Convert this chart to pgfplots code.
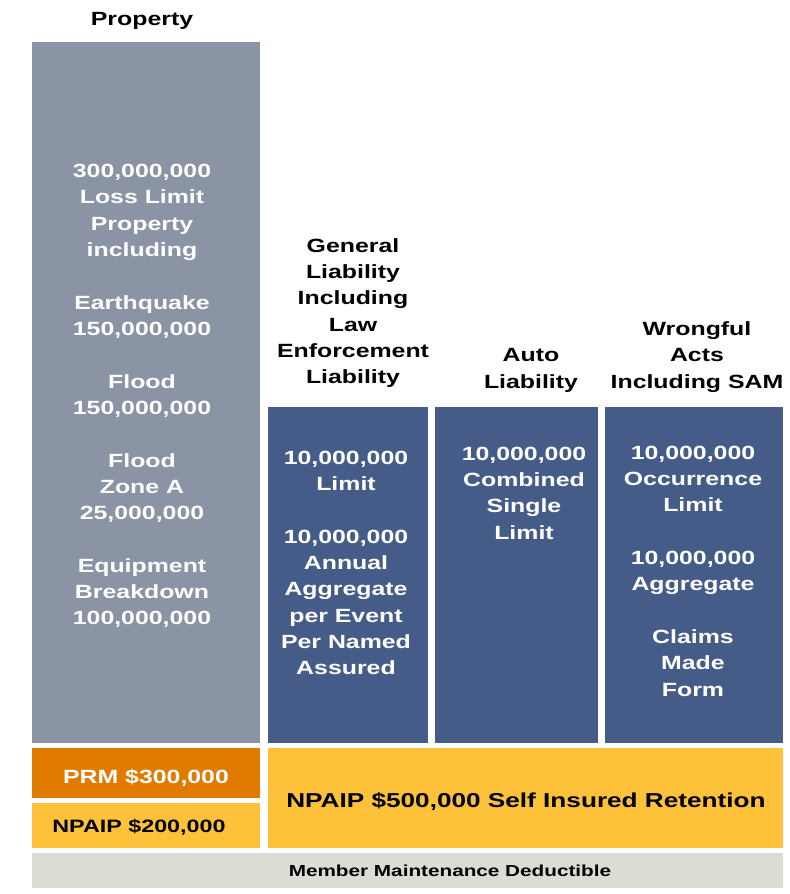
\documentclass[border=0pt]{standalone}
\usepackage{fontspec}
\setmainfont{Liberation Sans}[FakeStretch=1.3]
\usepackage{pgfplots}
\pgfplotsset{compat=1.18}

\definecolor{propgray}{HTML}{8A94A4}
\definecolor{liabblue}{HTML}{465C88}
\definecolor{prmorange}{HTML}{E07B00}
\definecolor{siryellow}{HTML}{FDC13A}
\definecolor{dedgray}{HTML}{DCDCD5}

\newcommand\lbl{\fontsize{9.6}{13.2}\selectfont\bfseries}
\newcommand\smlbl{\fontsize{8.0}{9}\selectfont\bfseries}

\begin{document}
\begin{tikzpicture}
  \begin{axis}[
    hide axis,
    scale only axis,
    width=395bp, height=447bp,
    xmin=0, xmax=790,
    ymin=0, ymax=894,
    y dir=reverse,
    clip=false,
  ]
  % page background
  \addplot[fill=white, draw=none] coordinates {(0,0) (790,0) (790,894) (0,894)} --cycle;

  % property layer
  \addplot[fill=propgray, draw=none] coordinates {(32,42) (260,42) (260,743) (32,743)} --cycle;
  % liability layers
  \addplot[fill=liabblue, draw=none] coordinates {(268,407) (428,407) (428,743) (268,743)} --cycle;
  \addplot[fill=liabblue, draw=none] coordinates {(435,407) (598,407) (598,743) (435,743)} --cycle;
  \addplot[fill=liabblue, draw=none] coordinates {(605,407) (783,407) (783,743) (605,743)} --cycle;
  % retentions
  \addplot[fill=prmorange, draw=none] coordinates {(32,748) (260,748) (260,798) (32,798)} --cycle;
  \addplot[fill=siryellow, draw=none] coordinates {(32,803) (260,803) (260,848) (32,848)} --cycle;
  \addplot[fill=siryellow, draw=none] coordinates {(268,748) (783,748) (783,848) (268,848)} --cycle;
  % deductible
  \addplot[fill=dedgray, draw=none] coordinates {(32,853) (783,853) (783,888) (32,888)} --cycle;

  % column titles
  \node[font=\lbl, align=center] at (axis cs:142,21) {Property};
  \node[font=\lbl, align=center] at (axis cs:353,313)
    {General\\Liability\\Including\\Law\\Enforcement\\Liability};
  \node[font=\lbl, align=center] at (axis cs:531,370.5)
    {Auto\\Liability};
  \node[font=\lbl, align=center] at (axis cs:697,357)
    {Wrongful\\Acts\\Including SAM};

  % box contents
  \node[font=\lbl, align=center, text=white] at (axis cs:142,396)
    {300,000,000\\Loss Limit\\Property\\including\\[13.2bp]
     Earthquake\\150,000,000\\[13.2bp]
     Flood\\150,000,000\\[13.2bp]
     Flood\\Zone A\\25,000,000\\[13.2bp]
     Equipment\\Breakdown\\100,000,000};
  \node[font=\lbl, align=center, text=white] at (axis cs:346,563)
    {10,000,000\\Limit\\[13.2bp]
     10,000,000\\Annual\\Aggregate\\per Event\\Per Named\\Assured};
  \node[font=\lbl, align=center, text=white] at (axis cs:524,493)
    {10,000,000\\Combined\\Single\\Limit};
  \node[font=\lbl, align=center, text=white] at (axis cs:693,571)
    {10,000,000\\Occurrence\\Limit\\[13.2bp]
     10,000,000\\Aggregate\\[13.2bp]
     Claims\\Made\\Form};

  \node[font=\lbl, text=white] at (axis cs:146,778) {PRM \$300,000};
  \node[font=\fontsize{9.0}{10}\selectfont\bfseries] at (axis cs:139,827) {NPAIP \$200,000};
  \node[font=\fontsize{10.1}{11}\selectfont\bfseries] at (axis cs:526,802) {NPAIP \$500,000 Self Insured Retention};
  \node[font=\smlbl] at (axis cs:450,871) {Member Maintenance Deductible};
  \end{axis}
\end{tikzpicture}
\end{document}
